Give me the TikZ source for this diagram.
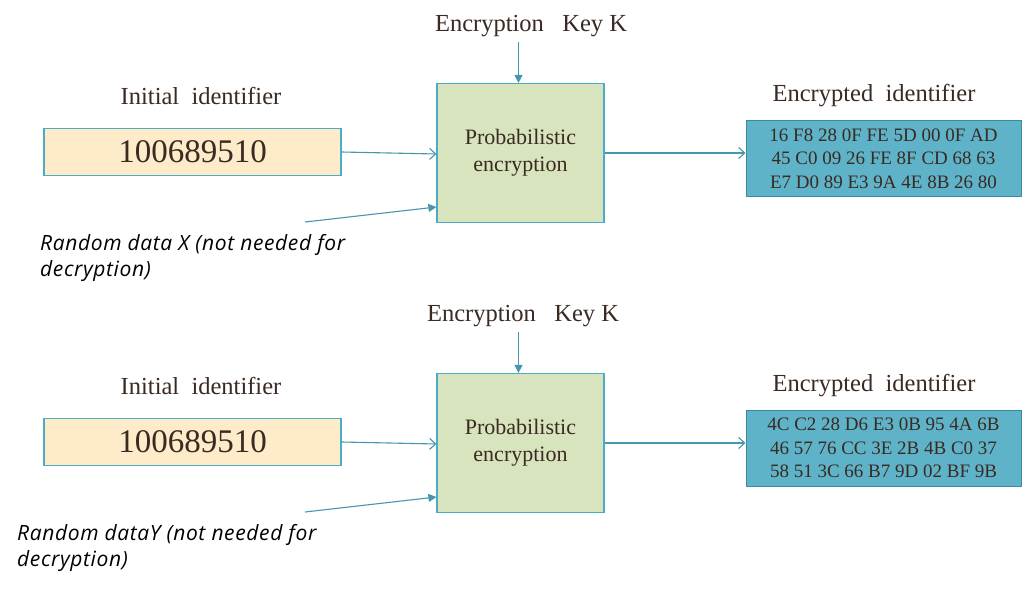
\documentclass[tikz,border=0pt]{standalone}
\usepackage{fontspec}
\setmainfont{Liberation Serif}
\newfontfamily\randfont[LetterSpace=3]{Open Sans}
\usetikzlibrary{arrows.meta}
\definecolor{boxline}{HTML}{4BACC6}
\definecolor{arrowc}{HTML}{4697AE}
\definecolor{yellowfill}{HTML}{FDEBC9}
\definecolor{greenfill}{HTML}{D7E4BD}
\definecolor{bluefill}{HTML}{5FB3C9}
\definecolor{txt}{HTML}{3A2A22}
\tikzset{
  idbox/.style={draw=boxline, line width=1.2pt, fill=yellowfill, minimum width=297pt, minimum height=47pt, inner sep=0pt, text=txt, font=\fontsize{33}{36}\selectfont},
  encbox/.style={draw=boxline, line width=1.2pt, fill=greenfill, minimum width=167pt, minimum height=139pt, inner sep=0pt, text=txt, align=center, font=\fontsize{22}{27}\selectfont},
  hexbox/.style={draw=boxline!80!black, line width=1pt, fill=bluefill, minimum width=275pt, minimum height=76pt, inner sep=0pt, text=txt, align=center, font=\fontsize{19}{23.5}\selectfont},
  lbl/.style={text=txt, inner sep=0pt, font=\fontsize{24.5}{28}\selectfont},
  randlbl/.style={text=black, inner sep=0pt, anchor=north west, align=left, font=\randfont\itshape\fontsize{21}{26}\selectfont},
  openarr/.style={draw=arrowc, line width=1.1pt, -{Straight Barb[length=6pt,width=11pt]}},
  fillarr/.style={draw=arrowc, line width=1.1pt, -{Triangle[length=8pt,width=8pt]}},
}
\begin{document}
\begin{tikzpicture}[x=1pt,y=-1pt]
\useasboundingbox (0,0) rectangle (1023,591);
\fill[white] (0,0) rectangle (1023,591);
% ---------- top row ----------
\node[lbl] (keyA) at (531,26) {Encryption\ \ \ Key K};
\node[encbox] (encA) at (520.5,153) {Probabilistic\\encryption};
\node[lbl] (initA) at (201,96) {Initial\ \ identifier};
\node[idbox] (idA) at (192.5,152) {100689510};
\node[lbl] (outA) at (874,96) {Encrypted\ \ identifier};
\node[hexbox] (hexA) at (883.5,158.5) {16 F8 28 0F FE 5D 00 0F AD\\45 C0 09 26 FE 8F CD 68 63\\E7 D0 89 E3 9A 4E 8B 26 80};
\node[randlbl] (randA) at (40,234) {Random data X (not needed for\\decryption)};
\coordinate (rsA) at (305,222);
\draw[fillarr] (keyA.south -| encA.north) ++(-2,5) coordinate (ksA) -- ([xshift=-2pt]encA.north);
\draw[openarr] (idA.east) -- ([yshift=-1pt]encA.west);
\draw[fillarr] (rsA) -- ([yshift=-54pt]encA.west);
\draw[openarr] (encA.east) -- (encA.east -| hexA.west);
% ---------- bottom row ----------
\node[lbl] (keyB) at (523,316) {Encryption\ \ \ Key K};
\node[encbox] (encB) at (520.5,443) {Probabilistic\\encryption};
\node[lbl] (initB) at (201,386) {Initial\ \ identifier};
\node[idbox] (idB) at (192.5,442) {100689510};
\node[lbl] (outB) at (874,386) {Encrypted\ \ identifier};
\node[hexbox] (hexB) at (883.5,448) {4C C2 28 D6 E3 0B 95 4A 6B\\46 57 76 CC 3E 2B 4B C0 37\\58 51 3C 66 B7 9D 02 BF 9B};
\node[randlbl] (randB) at (17,524) {Random dataY (not needed for\\decryption)};
\coordinate (rsB) at (305,512);
\draw[fillarr] (keyB.south -| encB.north) ++(-2,5) coordinate (ksB) -- ([xshift=-2pt]encB.north);
\draw[openarr] (idB.east) -- ([yshift=-1pt]encB.west);
\draw[fillarr] (rsB) -- ([yshift=-54pt]encB.west);
\draw[openarr] (encB.east) -- (encB.east -| hexB.west);
\end{tikzpicture}
\end{document}
